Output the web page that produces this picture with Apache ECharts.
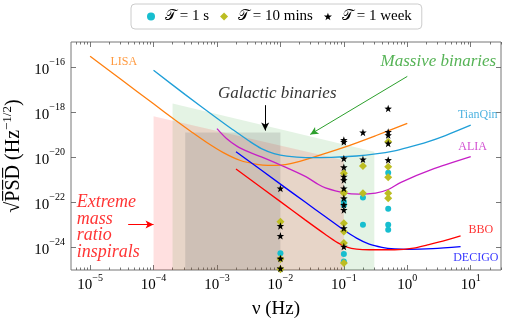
<!DOCTYPE html>
<html>
<head>
<meta charset="utf-8">
<script src="https://cdn.jsdelivr.net/npm/echarts@6.0.0/dist/echarts.min.js"></script>
<style>
html, body { margin: 0; padding: 0; background: #fff; }
#chart { width: 507px; height: 323px; }
</style>
</head>
<body>
<div id="chart"></div>
<script>
// all curve values are log10(freq / Hz) and log10(sqrt(PSD))
var lisaF = [-5, -4.5, -4, -3.66, -3.4, -3.16, -2.9, -2.63, -2.37, -2.2, -2.0, -1.84, -1.5, -1.0, -0.5, 0];
var lisaS = [-15.49, -16.55, -17.61, -18.33, -18.86, -19.33, -19.78, -20.13, -20.3, -20.35, -20.34, -20.27, -20.0, -19.55, -19.03, -18.48];

var tianqinF = [-4, -3.5, -3, -2.75, -2.5, -2.3, -2.1, -1.9, -1.6, -1.2, -0.8, -0.5, -0.2, 0, 0.32, 0.6, 1.0];
var tianqinS = [-16.12, -17.2, -18.25, -18.76, -19.25, -19.6, -19.82, -19.94, -20.0, -19.99, -19.93, -19.84, -19.7, -19.56, -19.3, -19.02, -18.56];

var aliaF = [-3, -2.85, -2.68, -2.5, -2.3, -2.0, -1.6, -1.4, -1.29, -1.0, -0.76, -0.5, -0.3, -0.1, 0.37, 1.0];
var aliaS = [-18.71, -19.15, -19.5, -19.75, -19.97, -20.33, -20.85, -21.2, -21.35, -21.57, -21.63, -21.58, -21.42, -21.1, -20.55, -19.96];

var decigoF = [-2.7, -2.0, -1.61, -1.29, -1.0, -0.8, -0.6, -0.4, -0.2, 0, 0.4, 0.84];
var decigoS = [-19.74, -21.18, -21.98, -22.63, -23.22, -23.58, -23.85, -23.99, -24.06, -24.08, -24.05, -23.96];

var bboF = [-2.7, -2.0, -1.61, -1.29, -1.1, -0.95, -0.8, -0.6, -0.2, 0.1, 0.32, 0.6, 0.84];
var bboS = [-20.51, -21.96, -22.77, -23.42, -23.78, -23.98, -24.07, -24.1, -24.1, -24.03, -23.88, -23.68, -23.48];

// source regions: [left, right] edges and top edge heights (log10)
var emriF = [-4, -1];
var emriTop = [-18.16, -20.12];
var massiveF = [-3.7, -0.52];
var massiveTop = [-17.6, -19.74];
var galacticF = [-3.5, -2];
var galacticTop = [-18.88, -18.88];

// detections, [freq in Hz, log10 sqrt(PSD)]
var oneSecond = [
  [0.01, -24.25],
  [0.1, -21.96], [0.1, -22.12], [0.1, -24.29], [0.1, -24.62],
  [0.2, -21.78], [0.2, -22.99],
  [0.5, -20.67], [0.5, -22.28], [0.5, -22.99], [0.5, -23.21]
];
var tenMinutes = [
  [0.01, -22.85], [0.01, -24.51], [0.01, -24.97],
  [0.1, -20.7], [0.1, -21.52], [0.1, -21.59], [0.1, -22.92], [0.1, -23.29], [0.1, -23.8], [0.1, -24.69],
  [0.2, -20.38], [0.2, -21.59],
  [0.5, -19.3], [0.5, -20.41], [0.5, -20.87], [0.5, -21.59], [0.5, -21.81]
];
var oneWeek = [
  [0.01, -21.37], [0.01, -23.04], [0.01, -23.48], [0.01, -24.49], [0.01, -24.93],
  [0.1, -19.22], [0.1, -19.3], [0.1, -20.04], [0.1, -20.43], [0.1, -20.85], [0.1, -21.0],
  [0.1, -21.37], [0.1, -21.81], [0.1, -22.1], [0.1, -22.33], [0.1, -23.14], [0.1, -23.96],
  [0.2, -18.88], [0.2, -20.08],
  [0.5, -17.82], [0.5, -18.86], [0.5, -19.0], [0.5, -19.37], [0.5, -20.11]
];

var xMajor = [1e-5, 1e-4, 1e-3, 1e-2, 1e-1, 1, 10];
var yMajor = [1e-24, 1e-22, 1e-20, 1e-18, 1e-16];

var pw = function (e) { return Math.pow(10, e); };
function pairs(fs, ss) {
  return fs.map(function (f, i) { return [pw(f), pw(ss[i])]; });
}
function pts(arr) {
  return arr.map(function (p) { return [p[0], pw(p[1])]; });
}

var xMinor = [];
for (var d = -6; d <= 1; d++) {
  for (var m = 2; m <= 9; m++) xMinor.push(m * pw(d));
}

var serif = '"Liberation Serif", "DejaVu Serif", serif';
var STAR = 'path://M0,-10L2.35,-3.24L9.51,-3.09L3.8,1.24L5.88,8.09L0,4L-5.88,8.09L-3.8,1.24L-9.51,-3.09L-2.35,-3.24Z';
var XMIN = 5e-6, XMAX = 30, YMIN = 1e-25, YMAX = pw(-14.86);

function powLabel(v) {
  var e = Math.round(Math.log10(v));
  return '{b|10}{s|' + String(e).replace('-', '\u2212') + '}';
}
var powRich = {
  b: { fontSize: 15, fontFamily: serif, color: '#000', verticalAlign: 'bottom', lineHeight: 20 },
  s: { fontSize: 10, fontFamily: serif, color: '#000', verticalAlign: 'top', lineHeight: 20 }
};

function xAx(pos, major) {
  return {
    type: 'log', position: pos, min: XMIN, max: XMAX,
    axisLine: { show: false },
    splitLine: { show: false },
    axisTick: {
      show: true, inside: true, length: major ? 5 : 2.5,
      customValues: major ? xMajor : xMinor,
      lineStyle: { color: '#555', width: 0.8 }
    },
    axisLabel: { show: false },
    minorTick: { show: false }
  };
}

var chartDom = document.getElementById('chart');
var myChart = echarts.init(chartDom);

function curve(name, fs, ss, color) {
  return {
    name: name, type: 'line', data: pairs(fs, ss), smooth: 0.3,
    symbol: 'none', lineStyle: { color: color, width: 1.3 }, z: 3, silent: true
  };
}
// trapezoid from the bottom of the plot up to a straight top edge
function region(fs, tops, color) {
  return {
    type: 'custom', silent: true, z: 1,
    encode: { x: [0, 1], y: [2, 3] },
    data: [[pw(fs[0]), pw(fs[1]), pw(tops[0]), pw(tops[1])]],
    renderItem: function (params, api) {
      var x1 = api.value(0), x2 = api.value(1);
      return {
        type: 'polygon',
        shape: { points: [
          api.coord([x1, YMIN]), api.coord([x1, api.value(2)]),
          api.coord([x2, api.value(3)]), api.coord([x2, YMIN])
        ] },
        style: { fill: color }
      };
    }
  };
}
function txt(lx, ly, text, color, size, italic, align) {
  return {
    value: [pw(lx), pw(ly)],
    label: {
      show: true, position: 'inside', formatter: text, color: color,
      fontSize: size, fontFamily: serif, fontStyle: italic ? 'italic' : 'normal',
      align: align || 'center', verticalAlign: 'middle', lineHeight: 16.8
    }
  };
}
function arrow(x1, y1, x2, y2, color) {
  return [
    { coord: [pw(x1), pw(y1)], lineStyle: { color: color, width: 1, type: 'solid' } },
    { coord: [pw(x2), pw(y2)] }
  ];
}

var option = {
  animation: false,
  backgroundColor: '#fff',
  grid: { left: 71, right: 6, top: 42, bottom: 53, show: true, borderColor: '#777', borderWidth: 1, outerBoundsMode: 'none' },
  legend: {
    left: 131, top: 4, orient: 'horizontal',
    padding: [5, 10, 5, 16], itemGap: 11, itemWidth: 8, itemHeight: 8,
    borderColor: '#ccc', borderWidth: 1, borderRadius: 4,
    textStyle: { fontSize: 15, fontFamily: serif, color: '#000', padding: [0, 0, 0, 5] },
    data: [
      { name: '\uD835\uDCAF = 1 s', icon: 'circle' },
      { name: '\uD835\uDCAF = 10 mins', icon: 'diamond' },
      { name: '\uD835\uDCAF = 1 week', icon: STAR }
    ]
  },
  xAxis: [
    {
      type: 'log', position: 'bottom', min: XMIN, max: XMAX,
      name: '\u03bd (Hz)', nameLocation: 'middle', nameGap: 30,
      nameTextStyle: { fontSize: 19, fontFamily: serif, color: '#000', padding: [0, 20, 0, 0] },
      axisLine: { show: false },
      splitLine: { show: false },
      minorTick: { show: false },
      axisTick: { show: true, inside: true, length: 5, customValues: xMajor, lineStyle: { color: '#555', width: 0.8 } },
      axisLabel: { show: true, customValues: xMajor, margin: 3, formatter: powLabel, rich: powRich }
    },
    xAx('bottom', false),
    xAx('top', true),
    xAx('top', false)
  ],
  yAxis: [
    {
      type: 'log', position: 'left', min: YMIN, max: YMAX,
      name: '\u221aP\u0305S\u0305D\u0305 (Hz{s|\u22121/2})', nameLocation: 'middle', nameGap: 41,
      nameTextStyle: {
        fontSize: 20, fontFamily: serif, color: '#000',
        rich: { s: { fontSize: 13, fontFamily: serif, color: '#000', verticalAlign: 'top', lineHeight: 24 } }
      },
      axisLine: { show: false },
      splitLine: { show: false },
      minorTick: { show: false },
      axisTick: { show: true, inside: true, length: 5, customValues: yMajor, lineStyle: { color: '#555', width: 0.8 } },
      axisLabel: { show: true, customValues: yMajor, margin: 6, formatter: powLabel, rich: powRich }
    },
    {
      type: 'log', position: 'right', min: YMIN, max: YMAX,
      axisLine: { show: false }, splitLine: { show: false }, minorTick: { show: false },
      axisTick: { show: true, inside: true, length: 5, customValues: yMajor, lineStyle: { color: '#555', width: 0.8 } },
      axisLabel: { show: false }
    }
  ],
  series: [
    region(massiveF, massiveTop, 'rgba(44,160,44,0.13)'),
    region(emriF, emriTop, 'rgba(255,0,0,0.12)'),
    region(galacticF, galacticTop, 'rgba(110,110,110,0.2)'),
    curve('LISA', lisaF, lisaS, '#ff7f0e'),
    curve('TianQin', tianqinF, tianqinS, '#1f9fd8'),
    curve('ALIA', aliaF, aliaS, '#c61fc6'),
    curve('DECIGO', decigoF, decigoS, '#0000ff'),
    curve('BBO', bboF, bboS, '#ff0000'),
    {
      name: '\uD835\uDCAF = 1 s', type: 'scatter', data: pts(oneSecond),
      symbol: 'circle', symbolSize: 6, itemStyle: { color: '#17becf', opacity: 1 }, z: 4
    },
    {
      name: '\uD835\uDCAF = 10 mins', type: 'scatter', data: pts(tenMinutes),
      symbol: 'diamond', symbolSize: 8, itemStyle: { color: '#bcbd22', opacity: 1 }, z: 5
    },
    {
      name: '\uD835\uDCAF = 1 week', type: 'scatter', data: pts(oneWeek),
      symbol: STAR, symbolSize: 7.5, itemStyle: { color: '#000', opacity: 1 }, z: 6
    },
    {
      type: 'scatter', symbolSize: 0, silent: true, z: 7,
      data: [
        txt(-4.47, -15.75, 'LISA', '#ff7f0e', 12),
        txt(1.11, -18.12, 'TianQin', '#1f9fd8', 12),
        txt(1.03, -19.52, 'ALIA', '#c61fc6', 12),
        txt(1.16, -23.22, 'BBO', '#ff0000', 12),
        txt(1.08, -24.47, 'DECIGO', '#0000ff', 12),
        txt(-2.05, -17.15, 'Galactic binaries', '#000', 17, true),
        txt(0.49, -15.75, 'Massive binaries', '#2ca02c', 17, true),
        txt(-5.21, -23.1, 'Extreme\nmass\nratio\ninspirals', '#ff0000', 18, true, 'left')
      ],
      markLine: {
        silent: true, symbol: ['none', 'arrow'], symbolSize: [6, 8],
        label: { show: false },
        data: [
          arrow(-2.24, -17.67, -2.24, -18.8, '#000'),
          arrow(0.0, -16.39, -1.53, -18.97, '#2ca02c'),
          arrow(-4.4, -22.98, -4.0, -22.98, '#ff0000')
        ]
      }
    }
  ]
};
myChart.setOption(option);
</script>
</body>
</html>
